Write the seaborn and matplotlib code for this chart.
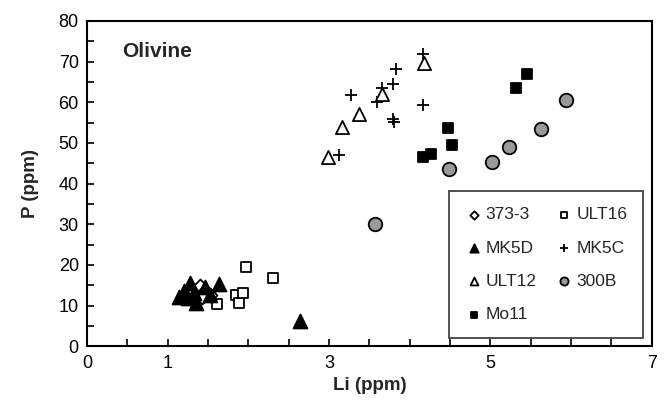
import numpy as np
import pandas as pd
import matplotlib
matplotlib.use("Agg")
import matplotlib.pyplot as plt
import seaborn as sns

sns.set_style("white")
plt.rcParams['font.family'] = ['Liberation Sans', 'DejaVu Sans']

# ---- data ----
s373_x = [1.40, 1.46, 1.52, 1.43]
s373_y = [14.8, 13.5, 12.6, 12.0]

ult16_x = [1.61, 1.85, 1.88, 1.93, 1.97, 2.30]
ult16_y = [10.3, 12.6, 10.7, 13.0, 19.4, 16.7]

mk5d_x = [1.14, 1.20, 1.25, 1.28, 1.32, 1.35, 1.46, 1.52, 1.63, 2.64]
mk5d_y = [12.2, 13.5, 11.8, 15.5, 13.0, 10.5, 14.6, 12.5, 15.2, 6.1]

mk5c_x = [4.17, 3.83, 3.79, 3.65, 3.27, 3.59, 4.17, 3.79, 3.81, 3.12]
mk5c_y = [71.9, 68.1, 64.4, 63.6, 61.7, 60.1, 59.3, 56.0, 55.1, 47.1]

ult12_x = [4.18, 3.66, 3.37, 3.16, 2.99]
ult12_y = [69.6, 62.0, 57.2, 53.8, 46.5]

b300_x = [5.94, 5.63, 5.23, 5.02, 4.49, 3.57]
b300_y = [60.6, 53.4, 49.1, 45.4, 43.6, 30.1]

mo11_x = [5.45, 5.32, 4.48, 4.53, 4.26, 4.17]
mo11_y = [67.0, 63.5, 53.6, 49.4, 47.2, 46.5]

x_tick_labels = {0: "0", 1: "1", 3: "3", 5: "5", 7: "7"}

series = [
    ("373-3", s373_x, s373_y, "D", "white", 50),
    ("ULT16", ult16_x, ult16_y, "s", "white", 62),
    ("MK5D", mk5d_x, mk5d_y, "^", "black", 100),
    ("MK5C", mk5c_x, mk5c_y, "+", "black", 80),
    ("ULT12", ult12_x, ult12_y, "^", "white", 90),
    ("300B", b300_x, b300_y, "o", "#999999", 95),
    ("Mo11", mo11_x, mo11_y, "s", "black", 62),
]

fig = plt.figure(figsize=(6.65, 4.03), dpi=100)
ax = fig.add_axes([0.131, 0.141, 0.849, 0.807])

for name, xs, ys, mk, fc, sz in series:
    df = pd.DataFrame({"x": xs, "y": ys})
    if mk == "+":
        sns.scatterplot(data=df, x="x", y="y", marker="+", color="black",
                        s=sz, linewidth=1.3, ax=ax, label=name, zorder=3)
    else:
        sns.scatterplot(data=df, x="x", y="y", marker=mk, facecolor=fc,
                        edgecolor="black", s=sz, linewidth=1.3, ax=ax,
                        label=name, zorder=3)

h, l = ax.get_legend_handles_labels()
hd = dict(zip(l, h))
order = ["373-3", "MK5D", "ULT12", "Mo11", "ULT16", "MK5C", "300B"]
leg = ax.legend([hd[k] for k in order], order, ncol=2, loc="lower right",
                bbox_to_anchor=(0.985, 0.025), borderaxespad=0,
                fontsize=12.5, frameon=True,
                fancybox=False, edgecolor="black", markerscale=0.6,
                handletextpad=0.2, handlelength=1.0, columnspacing=1.1,
                labelspacing=1.05, borderpad=0.9)
leg.get_frame().set_linewidth(1.2)

ax.set_xlim(0, 7)
ax.set_ylim(0, 80)
xt = np.arange(0, 7.01, 0.5)
ax.set_xticks(xt)
ax.set_xticklabels([x_tick_labels.get(v, "") if float(v).is_integer() else "" for v in xt])
ax.set_yticks(np.arange(0, 81, 10))
ax.set_yticks(np.arange(5, 80, 10), minor=True)
ax.tick_params(axis="both", which="both", direction="in", length=5, width=1.2,
               labelsize=13, colors="black", pad=6)
ax.tick_params(axis="x", which="both", bottom=True, top=False)
ax.tick_params(axis="y", which="both", left=True, right=False)
for sp in ax.spines.values():
    sp.set_visible(True)
    sp.set_color("black")
    sp.set_linewidth(1.5)

ax.set_xlabel("Li (ppm)", fontsize=13.5, fontweight="bold", labelpad=4)
ax.set_ylabel("P (ppm)", fontsize=13.5, fontweight="bold", labelpad=14)
ax.text(0.44, 72.5, "Olivine", fontsize=15, fontweight="bold", va="center")

fig.savefig("out.png", dpi=100)
